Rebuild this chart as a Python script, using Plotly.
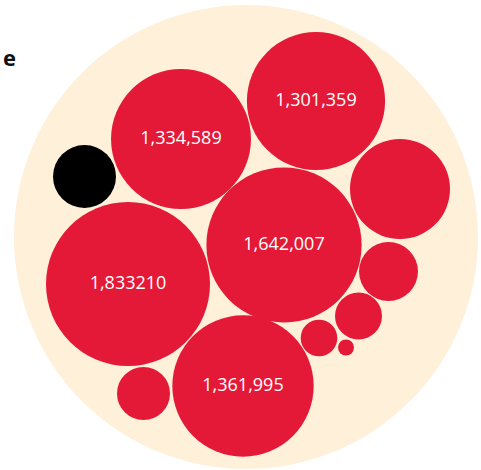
import plotly.graph_objects as go

# Data
labels = ["1,833210", "1,642,007", "1,334,589", "1,301,359", "1,361,995",
          "", "", "", "", "", "", ""]
values = [1833210, 1642007, 1334589, 1301359, 1361995,
          681600, 237000, 150600, 91300, 17450, 191500, 270500]
colors_key = ["red"] * 11 + ["black"]

# Packed layout positions (pixel-like units)
pos_x = [128, 284, 181, 316, 243, 400, 388.5, 358.5, 319, 346, 143.5, 84.5]
pos_y = [284, 245, 139, 101, 386, 189, 271.5, 316, 338, 347.5, 393.5, 176.5]

RED = "#E31937"
BEIGE = "#FEF0D9"
palette = {"red": RED, "black": "#000000"}

W, H = 481, 470
max_r = 82.0
sizeref = max(values) / (2 * max_r ** 2)

fig = go.Figure()

# background container circle
fig.add_shape(type="circle", xref="x", yref="y",
              x0=246 - 232, x1=246 + 232, y0=237 - 232, y1=237 + 232,
              fillcolor=BEIGE, line=dict(width=0), layer="below")

fig.add_trace(go.Scatter(
    x=pos_x, y=pos_y, mode="markers+text",
    text=labels, textposition="middle center",
    textfont=dict(family="Open Sans", size=18, color="white"),
    marker=dict(size=values, sizemode="area", sizeref=sizeref,
                color=[palette[c] for c in colors_key],
                line=dict(width=0), opacity=1),
    hoverinfo="skip", cliponaxis=False,
))

fig.add_annotation(x=1, y=57, xref="x", yref="y", text="<b>e</b>", showarrow=False,
                   xanchor="left", yanchor="middle",
                   font=dict(family="Open Sans", size=22, color="#111111"))

fig.update_layout(
    width=W, height=H, margin=dict(l=0, r=0, t=0, b=0),
    paper_bgcolor="white", plot_bgcolor="white", showlegend=False,
    xaxis=dict(range=[0, W], visible=False, fixedrange=True),
    yaxis=dict(range=[H, 0], visible=False, fixedrange=True),
)

fig.write_html("out.html", config={"displayModeBar": False},
               post_script="document.body.style.margin='0';document.body.style.overflow='hidden';")
